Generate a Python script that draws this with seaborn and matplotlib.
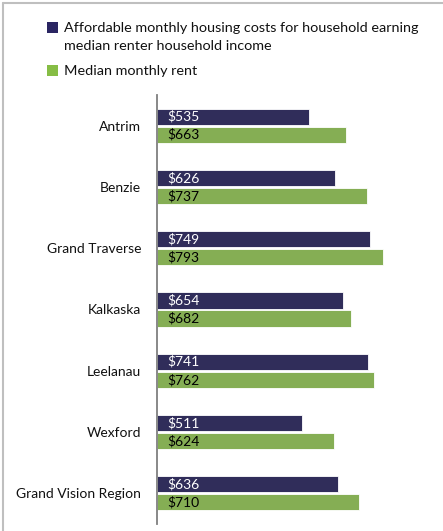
import matplotlib
matplotlib.use("Agg")
import matplotlib.pyplot as plt
import seaborn as sns
import pandas as pd
from matplotlib.patches import Patch
from matplotlib.lines import Line2D

regions = ["Antrim", "Benzie", "Grand Traverse", "Kalkaska", "Leelanau", "Wexford", "Grand Vision Region"]
affordable = [535, 626, 749, 654, 741, 511, 636]
median_rent = [663, 737, 793, 682, 762, 624, 710]
series = ["Affordable monthly housing costs for household earning\nmedian renter household income",
          "Median monthly rent"]
colors = ["#2a2562", "#86bd45"]
label_colors = ["white", "black"]

df = pd.DataFrame({
    "Region": regions * 2,
    "Value": affordable + median_rent,
    "Series": [series[0]] * len(regions) + [series[1]] * len(regions),
})

sns.set_theme(style="white")
plt.rcParams["font.family"] = ["Lato", "DejaVu Sans"]

fig = plt.figure(figsize=(4.43, 5.31), dpi=100)
ax = fig.add_axes([157 / 443, 1 - 524 / 531, 256 / 443, (524 - 95) / 531])

sns.barplot(data=df, y="Region", x="Value", hue="Series", order=regions,
            hue_order=series, palette=colors, orient="h", width=0.59, gap=0.11,
            ax=ax, legend=False, edgecolor="white", linewidth=0.6)

ax.set_xlim(0, 900)
ax.set_xlabel("")
ax.set_ylabel("")
ax.set_xticks([])
ax.tick_params(axis="y", length=0, pad=11.5, labelsize=10, labelcolor="#111111")
for s in ["top", "right", "bottom"]:
    ax.spines[s].set_visible(False)
ax.spines["left"].set_color("#7f7f7f")
ax.spines["left"].set_linewidth(1.3)

for cont, lc in zip(ax.containers, label_colors):
    for patch, v in zip(cont.patches, cont.datavalues):
        yc = patch.get_y() + patch.get_height() / 2
        ax.text(35, yc, f"${int(v)}", color=lc, fontsize=10, ha="left", va="center")

handles = [Patch(facecolor=c, edgecolor="none") for c in colors]
leg = fig.legend(handles, series, loc="upper left", bbox_to_anchor=(47 / 443, 1 - 22 / 531),
                 frameon=False, fontsize=10.4, handlelength=0.75, handleheight=0.75,
                 handletextpad=0.4, labelspacing=0.95, borderpad=0, borderaxespad=0)
for t in leg.get_texts():
    t.set_linespacing(1.55)
    t.set_color("#111111")
for col in leg._legend_handle_box.get_children():
    for item in col.get_children():
        item.align = "top"

fig.add_artist(Line2D([3 / 443, 1], [1 - 3 / 531, 1 - 3 / 531], transform=fig.transFigure,
                      color="#bfbfbf", lw=1.5))
fig.add_artist(Line2D([3 / 443, 3 / 443], [0, 1 - 3 / 531], transform=fig.transFigure,
                      color="#bfbfbf", lw=1.5))

fig.savefig("out.png", dpi=100)
